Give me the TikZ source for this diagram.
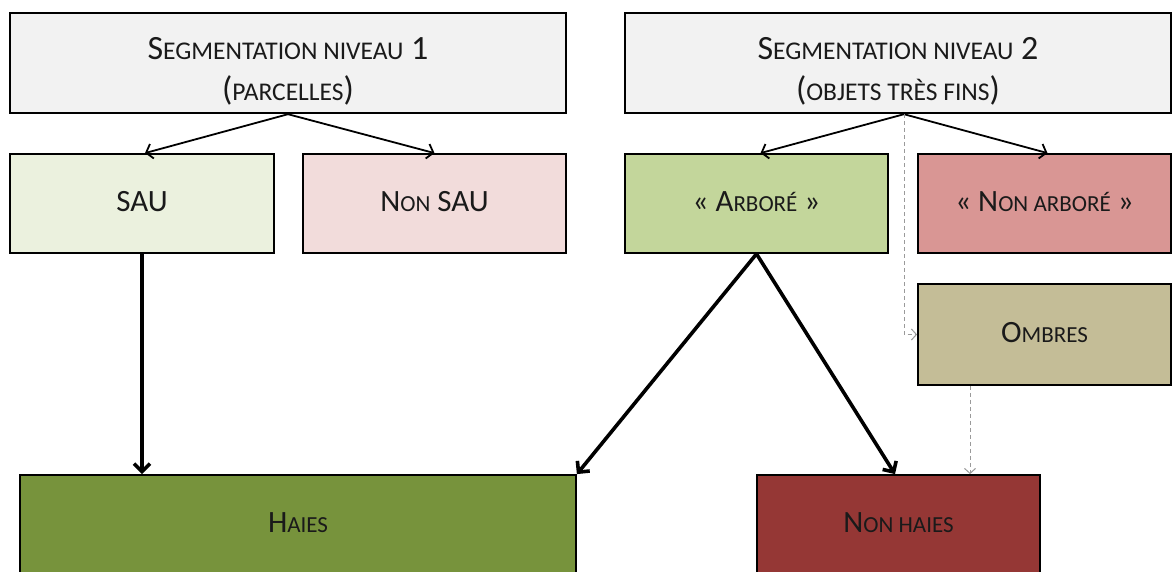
\documentclass[tikz,border=0pt]{standalone}
\usepackage{fontspec}
\setmainfont{Carlito}
\usetikzlibrary{arrows.meta}
\definecolor{segfill}{HTML}{F2F2F2}
\definecolor{saufill}{HTML}{EBF1DE}
\definecolor{nonsaufill}{HTML}{F2DCDB}
\definecolor{arbfill}{HTML}{C3D69B}
\definecolor{nonarbfill}{HTML}{D99694}
\definecolor{ombfill}{HTML}{C4BD97}
\definecolor{haiesfill}{HTML}{77933C}
\definecolor{nonhaiesfill}{HTML}{953735}
\definecolor{txt}{HTML}{1A1A1A}
\definecolor{dashgray}{HTML}{9A9A9A}
\newcommand{\smc}[1]{{\fontsize{23}{23}\selectfont #1}}
\newcommand{\smcbig}[1]{{\fontsize{25.5}{25.5}\selectfont #1}}
\newcommand{\segtext}[2]{\begin{tabular}{@{}c@{}}\rule{0pt}{47.3pt}#1\\#2\end{tabular}}
\begin{document}
\begin{tikzpicture}[x=1pt,y=-1pt,
  boxbase/.style={draw=black, line width=1.8pt, inner sep=0pt, text=txt},
  box/.style={boxbase, font=\fontsize{31}{36}\selectfont, text height=20pt, text depth=4pt},
  segbox/.style={boxbase, fill=segfill, minimum width=#1, minimum height=100pt,
    font=\fontsize{34}{41}\selectfont},
  thinarrow/.style={draw=black, line width=1.8pt, -{Straight Barb[length=6pt,width=15pt]}},
  thickarrow/.style={draw=black, line width=3.6pt, -{Straight Barb[length=8pt,width=16pt]}},
  dasharrow/.style={draw=dashgray, line width=1pt, dash pattern=on 4pt off 3pt, -{Straight Barb[length=5pt,width=11pt]}}]
\useasboundingbox (0,0) rectangle (1174,572);
\clip (0,0) rectangle (1174,572);
\fill[white] (0,0) rectangle (1174,572);

\node[segbox=556pt] (seg1) at (288,63)
  {\segtext{S\smcbig{EGMENTATION NIVEAU} 1}{(\smcbig{PARCELLES})}};
\node[segbox=546pt] (seg2) at (898,63)
  {\segtext{S\smcbig{EGMENTATION NIVEAU} 2}{(\smcbig{OBJETS TRÈS FINS})}};

\node[box, fill=saufill, minimum width=264pt, minimum height=99pt] (sau) at (142,203.5) {SAU};
\node[box, fill=nonsaufill, minimum width=263pt, minimum height=99pt] (nonsau) at (434.5,203.5) {N\smc{ON} SAU};
\node[box, fill=arbfill, minimum width=263pt, minimum height=99pt] (arb) at (756.5,203.5) {« A\smc{RBORÉ} »};
\node[box, fill=nonarbfill, minimum width=253pt, minimum height=99pt] (nonarb) at (1044.5,203.5) {« N\smc{ON ARBORÉ} »};
\node[box, fill=ombfill, minimum width=253pt, minimum height=101pt] (omb) at (1044.5,334.5) {O\smc{MBRES}};

\node[box, fill=haiesfill, minimum width=556pt, minimum height=98pt] (haies) at (298,524) {H\smc{AIES}};
\node[box, fill=nonhaiesfill, minimum width=283pt, minimum height=98pt] (nonhaies) at (898.5,524) {N\smc{ON HAIES}};

\coordinate (dx) at (970,0);

\draw[thinarrow] (seg1.south) -- ([xshift=3pt]sau.north);
\draw[thinarrow] (seg1.south) -- (nonsau.north);
\draw[thinarrow] ([xshift=6pt]seg2.south) -- ([xshift=4pt]arb.north);
\draw[thinarrow] ([xshift=6pt]seg2.south) -- ([xshift=3pt]nonarb.north);

\draw[dasharrow] ([xshift=6pt]seg2.south) |- (omb.west);
\draw[dasharrow] (dx |- omb.south) -- (dx |- nonhaies.north);

\draw[thickarrow] (sau.south) -- (sau.south |- haies.north);
\draw[thickarrow] (arb.south) -- (haies.north east);
\draw[thickarrow] (arb.south) -- ([xshift=-3.5pt]nonhaies.north);
\end{tikzpicture}
\end{document}
